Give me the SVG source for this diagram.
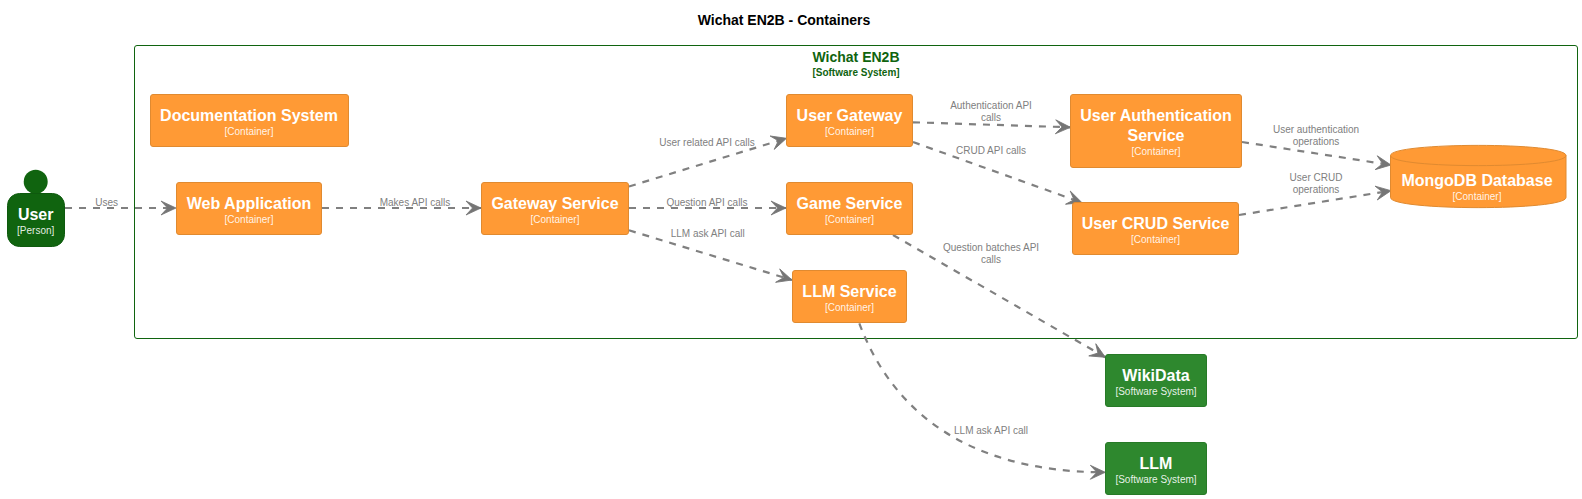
<svg xmlns="http://www.w3.org/2000/svg" width="1582" height="499" viewBox="0 0 1582 499">
<style>
text{font-family:"Liberation Sans",Arial,sans-serif;text-anchor:middle}
.t{font-size:16px;font-weight:700;fill:#fff}
.s{font-size:10px;fill:#fff;fill-opacity:.9}
.l{font-size:10px;fill:#808080}
.c{fill:#ff9a35;stroke:#e08a30;stroke-width:1}
.y{fill:#2e882e;stroke:#277a27;stroke-width:1}
.e{fill:none;stroke:#808080;stroke-width:2.2;stroke-dasharray:7 7;marker-end:url(#a)}
</style>
<defs><marker id="a" markerUnits="userSpaceOnUse" markerWidth="18" markerHeight="18" refX="16" refY="9" orient="auto" viewBox="0 0 18 18"><path d="M1 2L16 9L1 16L7.500 9Z" fill="#757575" stroke="#757575" stroke-width=".8"/></marker></defs>
<rect width="1582" height="499" fill="#fff"/>
<text x="784" y="25" font-size="14" font-weight="700" fill="#000">Wichat EN2B - Containers</text>
<g id="boundary">
<rect x="134.500" y="45.500" width="1443" height="293" rx="2.500" fill="none" stroke="#10640f" stroke-width="1"/>
<text x="856" y="62" font-size="14" font-weight="700" fill="#10640f">Wichat EN2B</text>
<text x="856" y="76" font-size="10" font-weight="700" fill="#10640f">[Software System]</text>
</g>
<g id="connectors">
<path class="e" d="M65 208H176"/>
<path class="e" d="M322 208H481"/>
<path class="e" d="M629 186.500L786.500 138.300"/>
<path class="e" d="M629 208H786"/>
<path class="e" d="M629 230.300L792 280"/>
<path class="e" d="M913 122.300L1070.500 127.300"/>
<path class="e" d="M913 142L1082 202.700"/>
<path class="e" d="M1242 142L1391 165"/>
<path class="e" d="M1239 215L1391 190.700"/>
<path class="e" d="M893 235L1105.300 357.300"/>
<path class="e" d="M859.300 323.300C890 405 960 472 1105.300 472.300"/>
<g class="labels">
<text class="l" x="106.700" y="205.500">Uses</text>
<text class="l" x="415" y="205.500">Makes API calls</text>
<text class="l" x="707" y="145.500">User related API calls</text>
<text class="l" x="707" y="206">Question API calls</text>
<text class="l" x="707.700" y="236.500">LLM ask API call</text>
<text class="l" x="991" y="109">Authentication API</text>
<text class="l" x="991" y="121">calls</text>
<text class="l" x="991" y="154">CRUD API calls</text>
<text class="l" x="1316" y="132.500">User authentication</text>
<text class="l" x="1316" y="145">operations</text>
<text class="l" x="1316" y="180.500">User CRUD</text>
<text class="l" x="1316" y="192.500">operations</text>
<text class="l" x="991" y="251">Question batches API</text>
<text class="l" x="991" y="263">calls</text>
<text class="l" x="991" y="434">LLM ask API call</text>
</g>
</g>
<g id="user">
<circle cx="35.700" cy="181.700" r="12" fill="#10640f"/>
<rect x="7.500" y="193.500" width="57" height="53" rx="12" fill="#10640f" stroke="#0e5a0e"/>
<text class="t" x="35.700" y="220">User</text><text class="s" x="35.700" y="234">[Person]</text>
</g>
<g id="documentation"><rect class="c" x="150.500" y="94.500" width="198" height="52" rx="2.500"/><text class="t" x="249" y="121">Documentation System</text><text class="s" x="249" y="135">[Container]</text></g>
<g id="webapp"><rect class="c" x="176.500" y="182.500" width="145" height="52" rx="2.500"/><text class="t" x="249" y="209">Web Application</text><text class="s" x="249" y="223">[Container]</text></g>
<g id="gateway"><rect class="c" x="481.500" y="182.500" width="147" height="52" rx="2.500"/><text class="t" x="555" y="209">Gateway Service</text><text class="s" x="555" y="223">[Container]</text></g>
<g id="usergateway"><rect class="c" x="786.500" y="94.500" width="126" height="52" rx="2.500"/><text class="t" x="849.500" y="121">User Gateway</text><text class="s" x="849.500" y="135">[Container]</text></g>
<g id="game"><rect class="c" x="786.500" y="182.500" width="126" height="52" rx="2.500"/><text class="t" x="849.500" y="209">Game Service</text><text class="s" x="849.500" y="223">[Container]</text></g>
<g id="llmservice"><rect class="c" x="792.500" y="270.500" width="114" height="52" rx="2.500"/><text class="t" x="849.500" y="297">LLM Service</text><text class="s" x="849.500" y="311">[Container]</text></g>
<g id="auth"><rect class="c" x="1070.500" y="94.500" width="171" height="73" rx="2.500"/><text class="t" x="1156" y="121">User Authentication</text><text class="t" x="1156" y="141">Service</text><text class="s" x="1156" y="155">[Container]</text></g>
<g id="crud"><rect class="c" x="1072.500" y="202.500" width="166" height="52" rx="2.500"/><text class="t" x="1155.500" y="229">User CRUD Service</text><text class="s" x="1155.500" y="243">[Container]</text></g>
<g id="mongo"><path class="c" d="M1390.500 155.500C1390.500 142 1566 142 1566 155.500V197.500C1566 211 1390.500 211 1390.500 197.500Z"/><path d="M1390.500 155.500C1390.500 169 1566 169 1566 155.500" fill="none" stroke="#e08a30"/><text class="t" x="1477" y="186">MongoDB Database</text><text class="s" x="1477" y="200">[Container]</text></g>
<g id="wikidata"><rect class="y" x="1105.500" y="354.500" width="101" height="52" rx="2.500"/><text class="t" x="1156" y="381">WikiData</text><text class="s" x="1156" y="395">[Software System]</text></g>
<g id="llm"><rect class="y" x="1105.500" y="442.500" width="101" height="52" rx="2.500"/><text class="t" x="1156" y="469">LLM</text><text class="s" x="1156" y="483">[Software System]</text></g>
</svg>
